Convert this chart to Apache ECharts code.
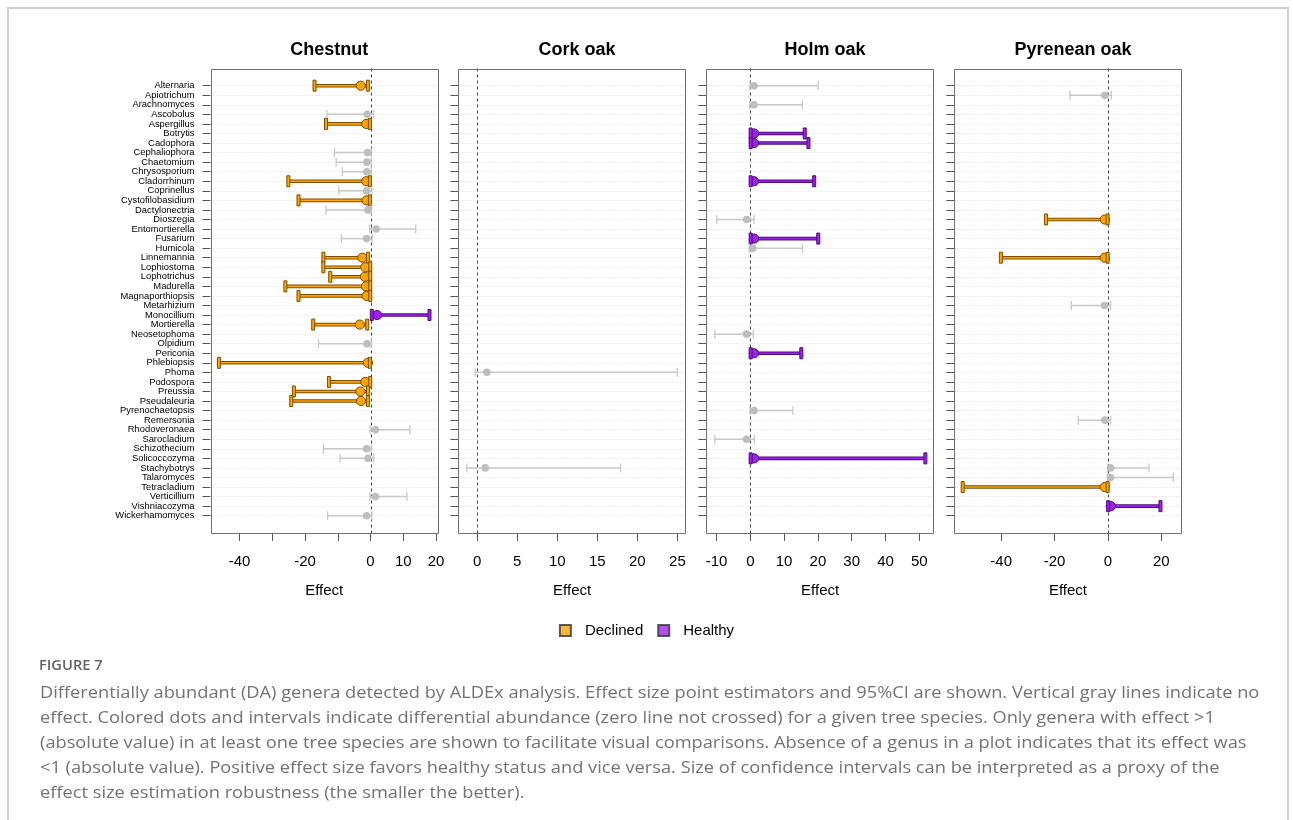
<!DOCTYPE html>
<html>
<head>
<meta charset="utf-8">
<script src="https://cdn.jsdelivr.net/npm/echarts@6/dist/echarts.min.js"></script>
<style>
  html, body { margin: 0; padding: 0; background: #fff; }
  #chart { width: 1293px; height: 820px; }
</style>
</head>
<body>
<div id="chart"></div>
<script>
// ---- Genera shown on every panel (top to bottom) ----
const genera = ['Alternaria', 'Apiotrichum', 'Arachnomyces', 'Ascobolus', 'Aspergillus', 'Botrytis',
  'Cadophora', 'Cephaliophora', 'Chaetomium', 'Chrysosporium', 'Cladorrhinum', 'Coprinellus',
  'Cystofilobasidium', 'Dactylonectria', 'Dioszegia', 'Entomortierella', 'Fusarium', 'Humicola',
  'Linnemannia', 'Lophiostoma', 'Lophotrichus', 'Madurella', 'Magnaporthiopsis', 'Metarhizium',
  'Monocillium', 'Mortierella', 'Neosetophoma', 'Olpidium', 'Periconia', 'Phlebiopsis', 'Phoma',
  'Podospora', 'Preussia', 'Pseudaleuria', 'Pyrenochaetopsis', 'Remersonia', 'Rhodoveronaea',
  'Sarocladium', 'Schizothecium', 'Solicoccozyma', 'Stachybotrys', 'Talaromyces', 'Tetracladium',
  'Verticillium', 'Vishniacozyma', 'Wickerhamomyces'];

const panelNames = ['Chestnut', 'Cork oak', 'Holm oak', 'Pyrenean oak'];

// ---- Chestnut: effect size with 95% CI ----
const chestnutGenus = ['Alternaria', 'Ascobolus', 'Aspergillus', 'Cephaliophora', 'Chaetomium',
  'Chrysosporium', 'Cladorrhinum', 'Coprinellus', 'Cystofilobasidium', 'Dactylonectria',
  'Entomortierella', 'Fusarium', 'Linnemannia', 'Lophiostoma', 'Lophotrichus', 'Madurella',
  'Magnaporthiopsis', 'Monocillium', 'Mortierella', 'Olpidium', 'Phlebiopsis', 'Podospora',
  'Preussia', 'Pseudaleuria', 'Rhodoveronaea', 'Schizothecium', 'Solicoccozyma', 'Verticillium',
  'Wickerhamomyces'];
const chestnutEffect = [-3.0, -1.0, -1.3, -0.9, -1.1, -1.1, -1.3, -1.2, -1.2, -0.8, 1.7, -1.2, -2.5,
  -1.6, -1.7, -1.4, -1.2, 2.0, -3.3, -1.1, -0.8, -1.6, -3.1, -2.9, 1.5, -1.2, -0.8, 1.5, -1.2];
const chestnutLower = [-17.1, -13.3, -13.6, -11.0, -10.5, -8.6, -25.1, -9.7, -22.0, -13.6, -0.3, -8.9,
  -14.4, -14.4, -12.3, -26.0, -22.0, 0.4, -17.5, -15.9, -46.3, -12.7, -23.4, -24.2, -0.2, -14.4, -9.3,
  -0.2, -13.1];
const chestnutUpper = [-0.8, 1.0, -0.2, 0.2, 0.2, 0.2, -0.2, 0.4, -0.2, 0.2, 13.8, 0.5, -0.8, -0.1,
  -0.1, -0.1, -0.1, 18.0, -1.0, 0.2, -0.2, -0.1, -0.8, -0.8, 12.0, 0.2, 1.0, 11.1, 0.4];
const chestnutTicks = [-40, -30, -20, -10, 0, 10, 20];
const chestnutTickLabels = [-40, -20, 0, 10, 20];

// ---- Cork oak ----
const corkGenus = ['Phoma', 'Stachybotrys'];
const corkEffect = [1.2, 1.0];
const corkLower = [-0.25, -1.3];
const corkUpper = [25.0, 17.9];
const corkTicks = [0, 5, 10, 15, 20, 25];
const corkTickLabels = [0, 5, 10, 15, 20, 25];

// ---- Holm oak ----
const holmGenus = ['Alternaria', 'Arachnomyces', 'Botrytis', 'Cadophora', 'Cladorrhinum', 'Dioszegia',
  'Fusarium', 'Humicola', 'Neosetophoma', 'Periconia', 'Pyrenochaetopsis', 'Sarocladium',
  'Solicoccozyma'];
const holmEffect = [1.1, 1.1, 1.1, 1.1, 1.1, -1.1, 1.1, 0.7, -1.1, 1.1, 1.1, -1.1, 1.1];
const holmLower = [-0.1, -0.2, 0.1, 0.1, 0.1, -9.9, 0.1, -0.3, -10.5, 0.1, -0.1, -10.5, 0.1];
const holmUpper = [20.1, 15.4, 16.1, 17.2, 18.9, 1.1, 20.1, 15.4, 0.9, 15.1, 12.6, 1.2, 51.8];
const holmTicks = [-10, 0, 10, 20, 30, 40, 50];
const holmTickLabels = [-10, 0, 10, 20, 30, 40, 50];

// ---- Pyrenean oak ----
const pyreneanGenus = ['Apiotrichum', 'Dioszegia', 'Linnemannia', 'Metarhizium', 'Remersonia',
  'Stachybotrys', 'Talaromyces', 'Tetracladium', 'Vishniacozyma'];
const pyreneanEffect = [-1.1, -1.2, -1.2, -1.2, -1.1, 1.0, 0.9, -1.2, 1.1];
const pyreneanLower = [-14.2, -23.2, -40.1, -13.7, -11.1, -0.1, -0.1, -54.4, 0.1];
const pyreneanUpper = [1.3, -0.1, -0.1, 1.0, 1.0, 15.4, 24.5, -0.1, 19.7];
const pyreneanTicks = [-40, -20, 0, 20];
const pyreneanTickLabels = [-40, -20, 0, 20];

const legendNames = ['Declined', 'Healthy'];

const captionHead = 'FIGURE 7';
const captionLines = [
  'Differentially abundant (DA) genera detected by ALDEx analysis. Effect size point estimators and 95%CI are shown. Vertical gray lines indicate no',
  'effect. Colored dots and intervals indicate differential abundance (zero line not crossed) for a given tree species. Only genera with effect >1',
  '(absolute value) in at least one tree species are shown to facilitate visual comparisons. Absence of a genus in a plot indicates that its effect was',
  '<1 (absolute value). Positive effect size favors healthy status and vice versa. Size of confidence intervals can be interpreted as a proxy of the',
  'effect size estimation robustness (the smaller the better).'
];

// ---- Styling / layout ----
const FONT = '"Liberation Sans", Arial, sans-serif';
const STATUS_STYLE = {
  Declined: { fill: '#FFA500', dark: '#7a4d00' },
  Healthy: { fill: '#A020F0', dark: '#4a0a78' }
};
const NS_LINE = '#c8c8c8';
const NS_POINT = '#bebebe';
const TICK_COLOR = '#555';

const frameLeft = [210.5, 458.4, 706.4, 954.3];
const frameWidth = 227.4;
const rowTop = 85.7;      // centre of the first genus row
const rowSpan = 430;      // distance between first and last genus rows
const PAD = 0.04;         // axis range extension on each side
const ext = rowSpan * PAD;

const panels = [
  { genus: chestnutGenus, effect: chestnutEffect, lower: chestnutLower, upper: chestnutUpper, ticks: chestnutTicks, labels: chestnutTickLabels },
  { genus: corkGenus, effect: corkEffect, lower: corkLower, upper: corkUpper, ticks: corkTicks, labels: corkTickLabels },
  { genus: holmGenus, effect: holmEffect, lower: holmLower, upper: holmUpper, ticks: holmTicks, labels: holmTickLabels },
  { genus: pyreneanGenus, effect: pyreneanEffect, lower: pyreneanLower, upper: pyreneanUpper, ticks: pyreneanTicks, labels: pyreneanTickLabels }
];

// Box around each panel plus the dashed no-effect line at 0
function renderFrame(params, api) {
  const cs = params.coordSys;
  const n = genera.length;
  const first = api.coord([0, 0]);
  const last = api.coord([0, n - 1]);
  const e = (last[1] - first[1]) * PAD;
  const x0 = Math.round(first[0]) + 0.5;
  return {
    type: 'group',
    children: [
      { type: 'line', shape: { x1: x0, y1: first[1] - e, x2: x0, y2: last[1] + e },
        style: { stroke: '#444', lineWidth: 1, lineDash: [3, 3] } },
      { type: 'rect', shape: { x: Math.round(cs.x) + 0.5, y: Math.round(first[1] - e) + 0.5, width: Math.round(cs.width), height: Math.round(last[1] - first[1] + 2 * e) },
        style: { fill: null, stroke: '#707070', lineWidth: 1 } }
    ]
  };
}

// Point estimate with its confidence interval
function renderInterval(params, api) {
  const row = api.value(3);
  const lo = api.value(1), hi = api.value(2);
  const p = api.coord([api.value(0), row]);
  const l = api.coord([lo, row]);
  const u = api.coord([hi, row]);
  const y = p[1];
  const status = lo > 0 ? 'Healthy' : (hi < 0 ? 'Declined' : null);
  if (!status) {
    return {
      type: 'group',
      children: [
        { type: 'line', shape: { x1: l[0], y1: y, x2: u[0], y2: y }, style: { stroke: NS_LINE, lineWidth: 1.5 } },
        { type: 'line', shape: { x1: l[0], y1: y - 4.5, x2: l[0], y2: y + 4.5 }, style: { stroke: NS_LINE, lineWidth: 1.3 } },
        { type: 'line', shape: { x1: u[0], y1: y - 4.5, x2: u[0], y2: y + 4.5 }, style: { stroke: NS_LINE, lineWidth: 1.3 } },
        { type: 'circle', shape: { cx: p[0], cy: y, r: 3.8 }, style: { fill: NS_POINT } }
      ]
    };
  }
  const s = STATUS_STYLE[status];
  const cap = (x) => ({ type: 'rect', shape: { x: x - 1.5, y: y - 5.5, width: 3, height: 11 },
    style: { fill: s.fill, stroke: s.dark, lineWidth: 1 } });
  return {
    type: 'group',
    children: [
      { type: 'line', shape: { x1: l[0], y1: y, x2: u[0], y2: y }, style: { stroke: s.dark, lineWidth: 3.6 } },
      { type: 'line', shape: { x1: l[0], y1: y, x2: u[0], y2: y }, style: { stroke: s.fill, lineWidth: 1.6 } },
      { type: 'circle', shape: { cx: p[0], cy: y, r: 4.6 }, style: { fill: s.fill, stroke: s.dark, lineWidth: 1 } },
      cap(l[0]),
      cap(u[0])
    ]
  };
}

const grids = [], xAxes = [], yAxes = [], series = [], titles = [];

panels.forEach((pn, i) => {
  const lo = Math.min(...pn.lower), hi = Math.max(...pn.upper);
  const r = hi - lo;
  grids.push({ left: frameLeft[i], width: frameWidth, top: rowTop, height: rowSpan });
  xAxes.push({
    type: 'value', gridIndex: i, min: lo - PAD * r, max: hi + PAD * r,
    offset: ext,
    name: 'Effect', nameLocation: 'middle', nameGap: 50,
    nameTextStyle: { fontSize: 15, color: '#000', fontFamily: FONT },
    axisLine: { show: false, onZero: false },
    axisTick: { show: true, length: 8, customValues: pn.ticks, lineStyle: { color: TICK_COLOR } },
    axisLabel: { customValues: pn.labels, fontSize: 15, color: '#000', margin: 21, fontFamily: FONT },
    splitLine: { show: false }
  });
  yAxes.push({
    type: 'category', gridIndex: i, data: genera, inverse: true, boundaryGap: false,
    axisLine: { show: false, onZero: false },
    axisTick: { show: true, length: 8, interval: 0, lineStyle: { color: TICK_COLOR } },
    axisLabel: { show: i === 0, interval: 0, fontSize: 9.4, color: '#000', margin: 16,
      padding: [3, 0, 0, 0], fontFamily: FONT },
    splitLine: { show: true, interval: 0, lineStyle: { color: '#dedede', type: [1, 2], width: 1 } }
  });
  series.push({
    type: 'custom', xAxisIndex: i, yAxisIndex: i, silent: true, z: 1,
    renderItem: renderFrame, data: [[0, 0]]
  });
  series.push({
    type: 'custom', xAxisIndex: i, yAxisIndex: i, silent: true, z: 3,
    renderItem: renderInterval,
    encode: { x: [0, 1, 2], y: 3 },
    data: pn.genus.map((g, k) => [pn.effect[k], pn.lower[k], pn.upper[k], genera.indexOf(g)])
  });
  titles.push({
    text: panelNames[i], left: frameLeft[i] + frameWidth / 2, top: 36, textAlign: 'center',
    textStyle: { fontSize: 18, fontWeight: 'bold', color: '#000', fontFamily: FONT }
  });
});

// Legend entries
legendNames.forEach((name) => {
  series.push({
    type: 'scatter', name: name, xAxisIndex: 0, yAxisIndex: 0, data: [],
    itemStyle: { color: STATUS_STYLE[name].fill, borderColor: '#333', borderWidth: 1 }
  });
});

const chart = echarts.init(document.getElementById('chart'), null, { renderer: 'canvas' });
chart.setOption({
  backgroundColor: '#ffffff',
  animation: false,
  title: titles,
  grid: grids,
  xAxis: xAxes,
  yAxis: yAxes,
  series: series,
  legend: {
    data: legendNames.map((n) => ({ name: n, icon: 'rect' })),
    left: 'center', top: 618, itemWidth: 11, itemHeight: 11, itemGap: 14,
    selectedMode: false,
    textStyle: { fontSize: 15, color: '#000', fontFamily: FONT, padding: [0, 0, 0, 9] }
  },
  graphic: [
    { type: 'rect', shape: { x: 8, y: 8, width: 1280, height: 900 }, silent: true,
      style: { fill: null, stroke: '#d0d0d0', lineWidth: 2 } },
    { type: 'text', x: 39, y: 659, scaleX: 1.05, silent: true,
      style: { text: captionHead, font: '600 14px "Open Sans", "Noto Sans", sans-serif', fill: '#666' } },
    { type: 'text', x: 40, y: 681, scaleX: 1.14, silent: true,
      style: { text: captionLines.join('\n'), fontSize: 16, lineHeight: 25,
        fontFamily: '"Open Sans", "Noto Sans", sans-serif', fill: '#737373' } }
  ]
});
</script>
</body>
</html>
